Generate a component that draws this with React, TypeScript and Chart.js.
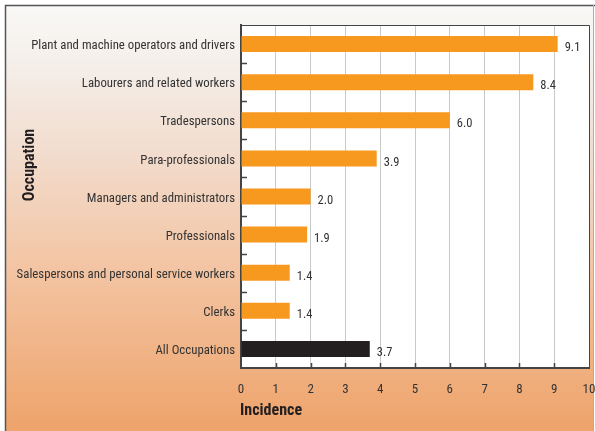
import { useEffect, useRef } from "react";
import { Chart, registerables } from "chart.js";

Chart.register(...registerables);

const categories = [
  "Plant and machine operators and drivers",
  "Labourers and related workers",
  "Tradespersons",
  "Para-professionals",
  "Managers and administrators",
  "Professionals",
  "Salespersons and personal service workers",
  "Clerks",
  "All Occupations",
];
const values = [9.1, 8.4, 6.0, 3.9, 2.0, 1.9, 1.4, 1.4, 3.7];
const barColors = [
  "#f7981f", "#f7981f", "#f7981f", "#f7981f", "#f7981f",
  "#f7981f", "#f7981f", "#f7981f", "#231f20",
];
const xMin = 0;
const xMax = 10;
const xTitle = "Incidence";
const yTitle = "Occupation";

const FONT = "'Roboto Condensed', 'Liberation Sans', sans-serif";

const decorPlugin = {
  id: "decor",
  beforeDraw(chart: any) {
    const { ctx, width, height, chartArea } = chart;
    ctx.save();
    ctx.fillStyle = "#ffffff";
    ctx.fillRect(0, 0, width, height);
    const g = ctx.createLinearGradient(0, 5, 0, height);
    g.addColorStop(0, "#f9f8f6");
    g.addColorStop(0.12, "#f5f0ec");
    g.addColorStop(0.35, "#f2dccd");
    g.addColorStop(0.6, "#f3c6a6");
    g.addColorStop(1, "#eea36a");
    ctx.fillStyle = g;
    ctx.fillRect(5, 5, width - 6, height - 5);
    ctx.strokeStyle = "#555555";
    ctx.lineWidth = 1.5;
    ctx.beginPath();
    ctx.moveTo(5.5, height);
    ctx.lineTo(5.5, 5.5);
    ctx.lineTo(width, 5.5);
    ctx.stroke();
    ctx.strokeStyle = "#d9a07a";
    ctx.lineWidth = 1;
    ctx.beginPath();
    ctx.moveTo(width - 1.5, 5);
    ctx.lineTo(width - 1.5, height);
    ctx.stroke();
    ctx.fillStyle = "#ffffff";
    ctx.fillRect(chartArea.left, chartArea.top, chartArea.right - chartArea.left, chartArea.bottom - chartArea.top);
    ctx.restore();
  },
  afterDatasetsDraw(chart: any) {
    const { ctx, chartArea } = chart;
    const xs = chart.scales.x;
    const ys = chart.scales.y;
    ctx.save();
    ctx.strokeStyle = "#444444";
    ctx.lineWidth = 1;
    ctx.beginPath();
    ctx.moveTo(chartArea.left, chartArea.top + 0.5);
    ctx.lineTo(chartArea.right + 0.5, chartArea.top + 0.5);
    ctx.lineTo(chartArea.right + 0.5, chartArea.bottom);
    ctx.stroke();
    ctx.lineWidth = 1.5;
    ctx.beginPath();
    for (let v = xMin + 1; v < xMax; v++) {
      const px = Math.round(xs.getPixelForValue(v)) + 0.5;
      ctx.moveTo(px, chartArea.bottom);
      ctx.lineTo(px, chartArea.bottom - 5);
    }
    for (let i = 0; i < categories.length - 1; i++) {
      const py = Math.round((ys.getPixelForTick(i) + ys.getPixelForTick(i + 1)) / 2) + 0.5;
      ctx.moveTo(chartArea.left, py);
      ctx.lineTo(chartArea.left + 6, py);
    }
    ctx.stroke();
    const meta = chart.getDatasetMeta(0);
    ctx.fillStyle = "#333333";
    ctx.font = `12.5px ${FONT}`;
    ctx.textAlign = "left";
    ctx.textBaseline = "middle";
    meta.data.forEach((el: any, i: number) => {
      ctx.fillText(values[i].toFixed(1), el.x + 7, el.y + 4);
    });
    ctx.fillStyle = "#231f20";
    ctx.font = `bold 16px ${FONT}`;
    ctx.textAlign = "left";
    ctx.textBaseline = "middle";
    ctx.fillText(xTitle, chartArea.left - 1, 411);
    ctx.translate(30, 165);
    ctx.rotate(-Math.PI / 2);
    ctx.textAlign = "center";
    ctx.fillText(yTitle, 0, 0);
    ctx.restore();
  },
};

export default function App() {
  const ref = useRef<HTMLCanvasElement>(null);
  useEffect(() => {
    if (!ref.current) return;
    const chart = new Chart(ref.current, {
      type: "bar",
      data: {
        labels: categories,
        datasets: [
          {
            data: values,
            backgroundColor: barColors,
            borderWidth: 0,
            categoryPercentage: 1,
            barPercentage: 0.42,
          },
        ],
      },
      options: {
        indexAxis: "y",
        responsive: false,
        animation: false,
        devicePixelRatio: 1,
        layout: { padding: { top: 25, right: 6, left: 0, bottom: 0 } },
        plugins: { legend: { display: false }, tooltip: { enabled: false } },
        scales: {
          x: {
            min: xMin,
            max: xMax,
            ticks: {
              stepSize: 1,
              padding: 14,
              color: "#333333",
              font: { family: FONT, size: 13 },
            },
            grid: { color: "#c9c9c9", lineWidth: 1, drawTicks: false },
            border: { color: "#444444", width: 2 },
            afterFit: (s: any) => {
              s.height = 63;
              s.paddingLeft = 0;
              s.paddingRight = 0;
            },
          },
          y: {
            ticks: {
              padding: 6,
              labelOffset: 2,
              color: "#333333",
              font: { family: FONT, size: 12.8 },
            },
            grid: { display: false, drawTicks: false },
            border: { color: "#444444", width: 2 },
            afterFit: (s: any) => {
              s.width = 241;
              s.paddingTop = 0;
              s.paddingBottom = 0;
            },
          },
        },
      },
      plugins: [decorPlugin],
    });
    return () => chart.destroy();
  }, []);
  return (
    <div style={{ position: "fixed", left: 0, top: 0, width: 595, height: 431 }}>
      <canvas ref={ref} width={595} height={431} style={{ width: 595, height: 431, display: "block" }} />
    </div>
  );
}
